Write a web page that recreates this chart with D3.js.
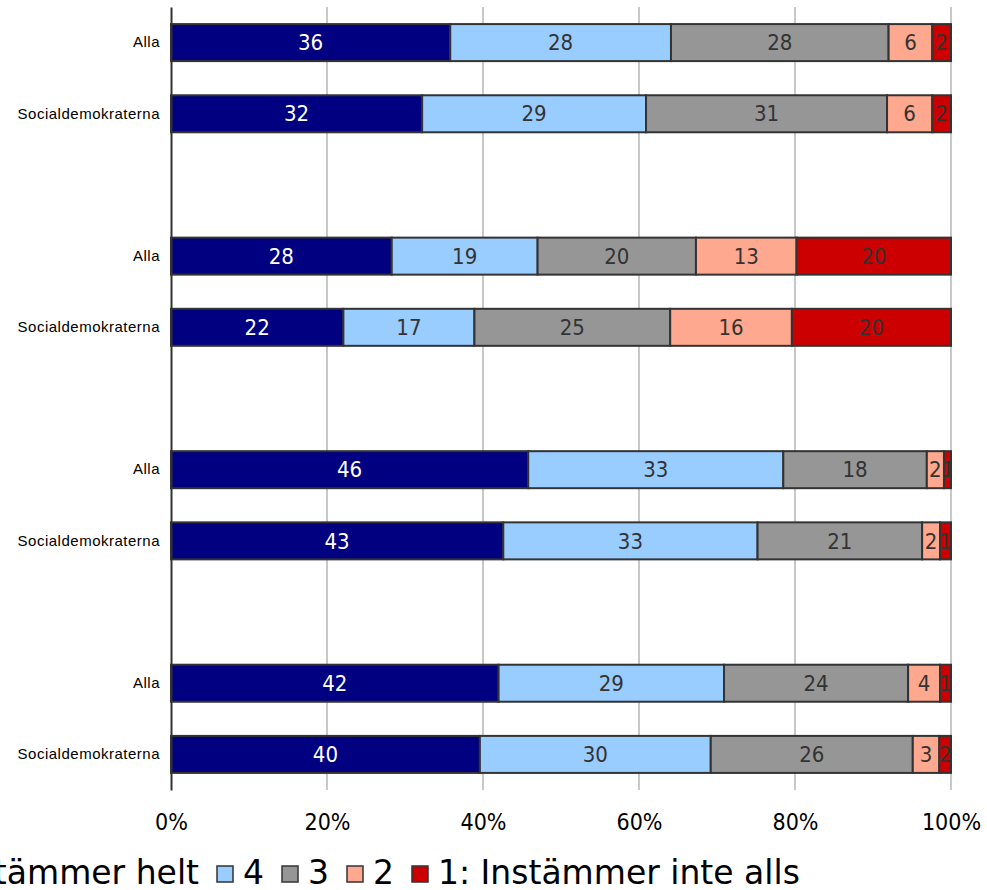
<!DOCTYPE html>
<html>
<head>
<meta charset="utf-8">
<script src="https://cdn.jsdelivr.net/npm/d3@7"></script>
<style>
  html, body { margin: 0; padding: 0; background: #fff; }
  svg { display: block; }
</style>
</head>
<body>
<svg id="chart" width="987" height="890"></svg>
<script>
// ---- data ----
const rowLabels = ["Alla", "Socialdemokraterna", "Alla", "Socialdemokraterna",
                   "Alla", "Socialdemokraterna", "Alla", "Socialdemokraterna"];
const rowGroups = [0, 0, 1, 1, 2, 2, 3, 3];
const seriesNames = ["5: Instämmer helt", "4", "3", "2", "1: Instämmer inte alls"];
const s5 = [35.8, 32.2, 28.3, 22.1, 45.8, 42.6, 42.0, 39.6];
const s4 = [28.3, 28.7, 18.7, 16.8, 32.7, 32.6, 28.9, 29.6];
const s3 = [27.9, 30.9, 20.3, 25.1, 18.4, 21.1, 23.6, 25.9];
const s2 = [5.6, 5.8, 12.9, 15.6, 2.2, 2.3, 4.1, 3.4];
const s1 = [2.4, 2.4, 19.8, 20.4, 0.9, 1.4, 1.4, 1.5];
const tickValues = [0, 20, 40, 60, 80, 100];
const colors = ["#000080", "#99ccff", "#969696", "#ffa890", "#cc0000"];
const labelColors = ["#ffffff", "#333333", "#333333", "#333333", "#333333"];

// ---- build table ----
const seriesVals = [s5, s4, s3, s2, s1];
const slots = [];
rowLabels.forEach((lab, i) => {
  if (i > 0 && rowGroups[i] !== rowGroups[i - 1]) slots.push({ key: "gap" + i, label: "" });
  slots.push({ key: "r" + i, label: lab });
});
const rows = rowLabels.map((lab, i) => {
  const o = { key: "r" + i, label: lab };
  seriesNames.forEach((s, j) => { o[s] = seriesVals[j][i]; });
  return o;
});

const svg = d3.select("#chart");
const x = d3.scaleLinear().domain([0, 100]).range([171, 951]);
const y = d3.scaleBand().domain(slots.map(d => d.key)).range([7, 790])
  .paddingInner(0.48).paddingOuter(0.24);
const slotLabel = new Map(slots.map(d => [d.key, d.label]));

// gridlines
svg.append("g").selectAll("line").data(tickValues.filter(d => d > 0)).join("line")
  .attr("x1", d => x(d)).attr("x2", d => x(d))
  .attr("y1", 7).attr("y2", 790)
  .attr("stroke", "#c8c8c8").attr("stroke-width", 2);

// stacked bars
const stack = d3.stack().keys(seriesNames);
const stacked = stack(rows);
const defs = svg.append("defs");
const barsG = svg.append("g");
stacked.forEach((layer, j) => {
  const g = barsG.append("g");
  layer.forEach((seg, i) => {
    const x0 = x(seg[0]), x1 = x(seg[1]);
    const yy = y(rows[i].key), h = y.bandwidth();
    const id = "clip-" + j + "-" + i;
    defs.append("clipPath").attr("id", id).append("rect")
      .attr("x", x0).attr("y", yy).attr("width", x1 - x0).attr("height", h);
    g.append("rect")
      .attr("x", x0).attr("y", yy).attr("width", x1 - x0).attr("height", h)
      .attr("fill", colors[j]).attr("stroke", "#333333").attr("stroke-width", 2);
    g.append("text")
      .attr("clip-path", "url(#" + id + ")")
      .attr("x", (x0 + x1) / 2).attr("y", yy + h / 2)
      .attr("dy", "0.35em")
      .attr("text-anchor", "middle")
      .attr("font-family", "'DejaVu Sans Condensed', 'DejaVu Sans', sans-serif")
      .attr("font-stretch", "condensed")
      .attr("font-size", 22)
      .attr("fill", labelColors[j])
      .text(Math.round(seg.data[seriesNames[j]]));
  });
});

// left axis
const yAxis = svg.append("g").attr("transform", "translate(171,0)")
  .call(d3.axisLeft(y).tickSize(0).tickPadding(11).tickFormat(k => slotLabel.get(k)));
yAxis.select(".domain").attr("stroke", "#333333").attr("stroke-width", 2);
yAxis.selectAll("text")
  .attr("font-family", "'Liberation Sans', Arial, sans-serif")
  .attr("font-size", 15).attr("letter-spacing", "0.5px").attr("fill", "#000");

// bottom axis labels
const xAxis = svg.append("g").attr("transform", "translate(0,790)")
  .call(d3.axisBottom(x).tickValues(tickValues).tickSize(0).tickFormat(d => d + "%"));
xAxis.select(".domain").remove();
xAxis.selectAll("text")
  .attr("y", 40).attr("dy", 0)
  .attr("font-family", "'DejaVu Sans Condensed', 'DejaVu Sans', sans-serif")
  .attr("font-stretch", "condensed")
  .attr("font-size", 23).attr("fill", "#000");

// legend
const legend = svg.append("g");
const boxSize = 16, boxGap = 10, itemGap = 18, legendBaseline = 884;
let cursor = 0;
const items = seriesNames.map((name, j) => {
  const g = legend.append("g");
  const t = g.append("text")
    .attr("font-family", "'DejaVu Sans', sans-serif")
    .attr("font-size", 33).attr("fill", "#000").text(name);
  const w = t.node().getComputedTextLength();
  const bx = cursor;
  g.append("rect").attr("x", bx).attr("y", legendBaseline - 18)
    .attr("width", boxSize).attr("height", boxSize)
    .attr("fill", colors[j]).attr("stroke", "#333333").attr("stroke-width", 1.5);
  t.attr("x", bx + boxSize + boxGap).attr("y", legendBaseline);
  cursor = bx + boxSize + boxGap + w + itemGap;
  return { bx };
});
// anchor: last item's box at x=412
const shift = 412 - items[items.length - 1].bx;
legend.attr("transform", "translate(" + shift + ",0)");
</script>
</body>
</html>
